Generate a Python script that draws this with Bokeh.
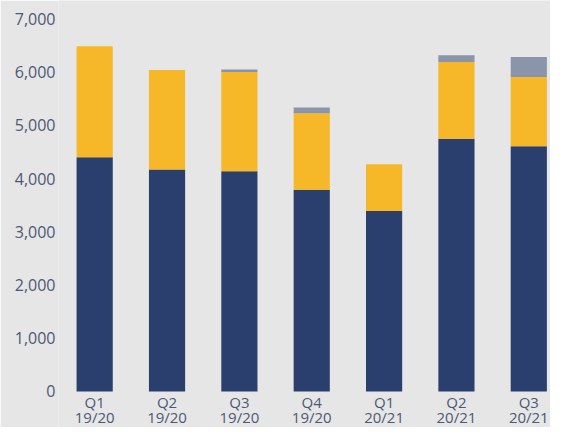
from bokeh.plotting import figure
from bokeh.models import ColumnDataSource, Range1d, FixedTicker, NumeralTickFormatter
from bokeh.core.properties import value
from bokeh.embed import file_html
from bokeh.resources import INLINE

categories = ["Q1\n19/20", "Q2\n19/20", "Q3\n19/20", "Q4\n19/20", "Q1\n20/21", "Q2\n20/21", "Q3\n20/21"]
navy_vals = [4400, 4170, 4140, 3790, 3390, 4750, 4610]
yellow_vals = [2090, 1870, 1865, 1440, 880, 1440, 1300]
gray_vals = [0, 0, 45, 105, 0, 130, 375]
y_ticks = [0, 1000, 2000, 3000, 4000, 5000, 6000, 7000]

BG = "#e6e6e6"
TEXT = "#4d5974"
FONT = "Open Sans"

xs = list(range(len(categories)))
source = ColumnDataSource(dict(x=xs, base=[0] * len(xs), label=categories,
                               navy=navy_vals, yellow=yellow_vals, gray=gray_vals))

p = figure(width=550, height=427, output_backend="svg", toolbar_location=None,
           x_range=Range1d(-0.5, 6.3), y_range=Range1d(-677, 7348),
           background_fill_color=BG, border_fill_color=BG,
           min_border_top=0, min_border_right=0, min_border_left=58, min_border_bottom=0,
           outline_line_color=None)

p.vbar_stack(["navy", "yellow", "gray"], x="x", width=0.5, source=source,
             color=["#2b3f6e", "#f6b829", "#8a95aa"], line_color=None)

p.text(x="x", y="base", text="label", source=source,
       text_align="center", text_baseline="top", y_offset=1,
       text_font=value(FONT), text_font_size="15px", text_color=TEXT,
       text_line_height=0.75)

p.xgrid.visible = False
p.ygrid.visible = False
p.xaxis.visible = False

p.yaxis.ticker = FixedTicker(ticks=y_ticks)
p.yaxis.formatter = NumeralTickFormatter(format="0,0")
ax = p.yaxis[0]
ax.axis_line_color = None
ax.major_tick_line_color = None
ax.minor_tick_line_color = None
ax.major_tick_out = 0
ax.major_tick_in = 0
ax.major_label_text_color = TEXT
ax.major_label_text_font = FONT
ax.major_label_text_font_size = "16px"
ax.major_label_standoff = 3

open("out.html", "w").write(file_html(p, INLINE))
